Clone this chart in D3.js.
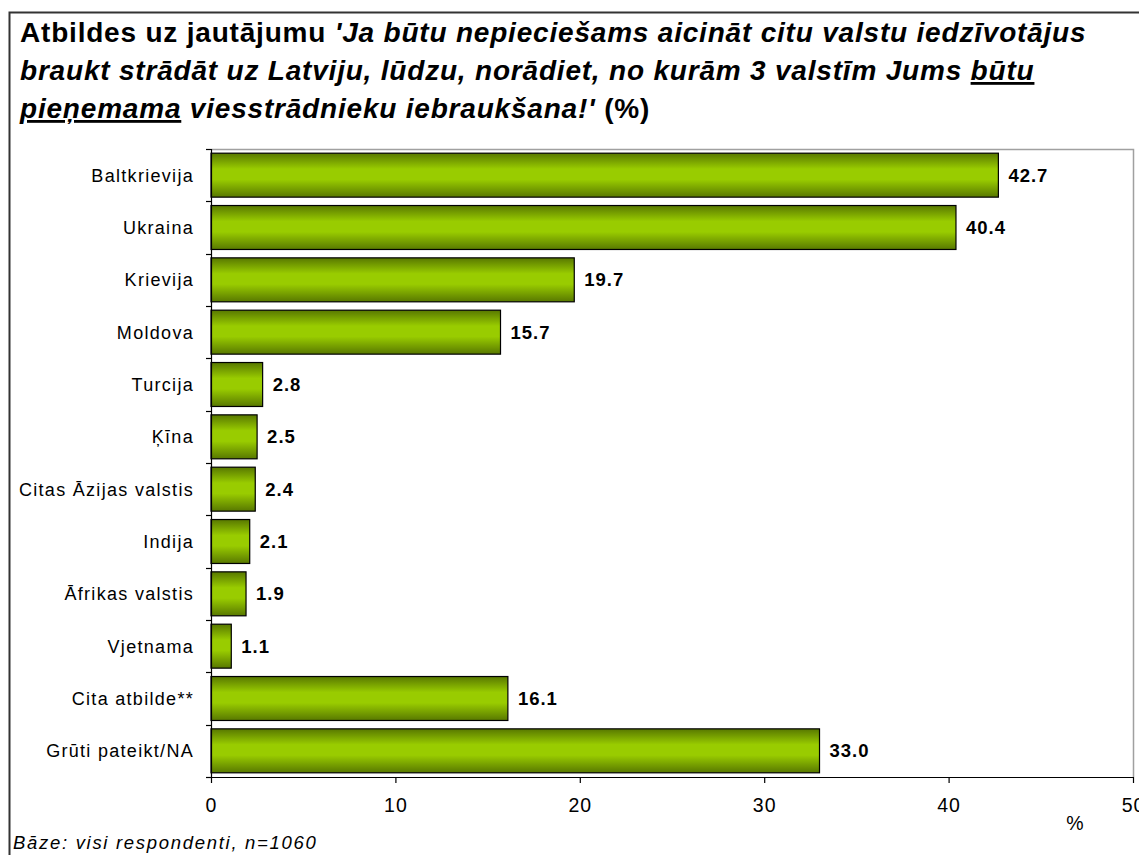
<!DOCTYPE html>
<html>
<head>
<meta charset="utf-8">
<script src="https://cdn.jsdelivr.net/npm/d3@7"></script>
<style>
  body { margin: 0; background: #fff; }
  svg { display: block; }
  text { font-family: "Liberation Sans", Arial, sans-serif; fill: #000; }
</style>
</head>
<body>
<svg id="chart" width="1139" height="855"></svg>
<script>
// Countries from which inviting foreign workers would be acceptable (%)
const categories = [
  "Baltkrievija", "Ukraina", "Krievija", "Moldova", "Turcija", "Ķīna",
  "Citas Āzijas valstis", "Indija", "Āfrikas valstis", "Vjetnama",
  "Cita atbilde**", "Grūti pateikt/NA"
];
const values = [42.7, 40.4, 19.7, 15.7, 2.8, 2.5, 2.4, 2.1, 1.9, 1.1, 16.1, 33.0];
const xTicks = [0, 10, 20, 30, 40, 50];
const xDomain = [0, 50];

const svg = d3.select("#chart");
const W = 1139, H = 855;

// Outer frame (runs past the right and bottom edges of the page)
svg.append("rect")
  .attr("x", 9.5).attr("y", 12.5)
  .attr("width", W + 20).attr("height", H + 20)
  .attr("fill", "#fff").attr("stroke", "#333").attr("stroke-width", 2);

// Title, three lines with mixed styles
const titleLines = [
  [{t: "Atbildes uz jautājumu ", i: false}, {t: "'Ja būtu nepieciešams aicināt citu valstu iedzīvotājus", i: true}],
  [{t: "braukt strādāt uz Latviju, lūdzu, norādiet, no kurām 3 valstīm Jums ", i: true}, {t: "būtu", i: true, u: true}],
  [{t: "pieņemama", i: true, u: true}, {t: " viesstrādnieku iebraukšana!'", i: true}, {t: " (%)", i: false}]
];
const title = svg.append("text")
  .attr("font-size", 28).attr("font-weight", "bold")
  .style("letter-spacing", "0.8px");
titleLines.forEach((line, li) => {
  line.forEach((seg, si) => {
    const ts = title.append("tspan").text(seg.t)
      .attr("font-style", seg.i ? "italic" : "normal")
      .attr("text-decoration", seg.u ? "underline" : null);
    if (si === 0) ts.attr("x", 20).attr("y", 42 + li * 38);
  });
});

// Plot area
const plot = {left: 211, right: 1133, top: 149, bottom: 777};

const x = d3.scaleLinear().domain(xDomain).range([plot.left, plot.right]);
const y = d3.scaleBand().domain(categories).range([plot.top, plot.bottom])
  .paddingInner(0.16).paddingOuter(0.08);

// Gray plot border (top and right)
svg.append("path")
  .attr("d", `M${plot.left},${plot.top + 0.5}H${plot.right + 0.5}V${plot.bottom}`)
  .attr("fill", "none").attr("stroke", "#a0a0a0").attr("stroke-width", 1.5);

// Bar gradient
const defs = svg.append("defs");
const grad = defs.append("linearGradient").attr("id", "barGrad")
  .attr("x1", 0).attr("y1", 0).attr("x2", 0).attr("y2", 1);
[[0, "#587800"], [0.36, "#99cc00"], [0.6, "#99cc00"], [1, "#587800"]]
  .forEach(([o, c]) => grad.append("stop").attr("offset", o).attr("stop-color", c));

// Bars
svg.append("g").selectAll("rect")
  .data(categories)
  .join("rect")
  .attr("x", x(0))
  .attr("y", d => y(d))
  .attr("width", (d, i) => x(values[i]) - x(0))
  .attr("height", y.bandwidth())
  .attr("fill", "url(#barGrad)")
  .attr("stroke", "#000").attr("stroke-width", 1.2);

// Value labels
svg.append("g").selectAll("text")
  .data(categories)
  .join("text")
  .attr("x", (d, i) => x(values[i]) + 10)
  .attr("y", d => y(d) + y.bandwidth() / 2)
  .attr("dy", "0.36em")
  .attr("font-size", 18.5).attr("font-weight", "bold")
  .style("letter-spacing", "1px")
  .text((d, i) => d3.format(".1f")(values[i]));

// Y axis: line with ticks at band boundaries
const yAxisG = svg.append("g");
yAxisG.append("line")
  .attr("x1", plot.left + 0.5).attr("x2", plot.left + 0.5)
  .attr("y1", plot.top).attr("y2", plot.bottom)
  .attr("stroke", "#000").attr("stroke-width", 1.2);
const boundaries = categories.map(c => y(c) - y.step() * y.paddingInner() / 2).concat([plot.bottom]);
yAxisG.selectAll("line.tick")
  .data(boundaries)
  .join("line").attr("class", "tick")
  .attr("x1", plot.left - 5).attr("x2", plot.left)
  .attr("y1", d => Math.round(d) + 0.5).attr("y2", d => Math.round(d) + 0.5)
  .attr("stroke", "#000").attr("stroke-width", 1.2);

// Category labels
yAxisG.selectAll("text")
  .data(categories)
  .join("text")
  .attr("x", 194)
  .attr("y", d => y(d) + y.bandwidth() / 2)
  .attr("dy", "0.36em")
  .attr("text-anchor", "end")
  .attr("font-size", 18)
  .style("letter-spacing", "1.3px")
  .text(d => d);

// X axis
const xAxis = d3.axisBottom(x).tickValues(xTicks).tickSize(6).tickPadding(15)
  .tickFormat(d3.format("d"));
const xAxisG = svg.append("g")
  .attr("transform", `translate(0,${plot.bottom})`)
  .call(xAxis);
xAxisG.select(".domain").attr("d", `M${plot.left - 5},0.5H${plot.right + 0.5}`)
  .attr("stroke", "#000").attr("stroke-width", 1.2);
xAxisG.selectAll(".tick line").attr("stroke", "#000").attr("stroke-width", 1.2);
xAxisG.selectAll(".tick text")
  .attr("font-size", 19.5).attr("font-family", "Liberation Sans, Arial, sans-serif")
  .style("letter-spacing", "1px").attr("fill", "#000");

// Axis unit
svg.append("text")
  .attr("x", 1075).attr("y", 830)
  .attr("text-anchor", "middle")
  .attr("font-size", 19.5)
  .text("%");

// Footnote
svg.append("text")
  .attr("x", 13).attr("y", 849)
  .attr("font-size", 18.5).attr("font-style", "italic")
  .style("letter-spacing", "1.7px")
  .text("Bāze: visi respondenti, n=1060");
</script>
</body>
</html>
